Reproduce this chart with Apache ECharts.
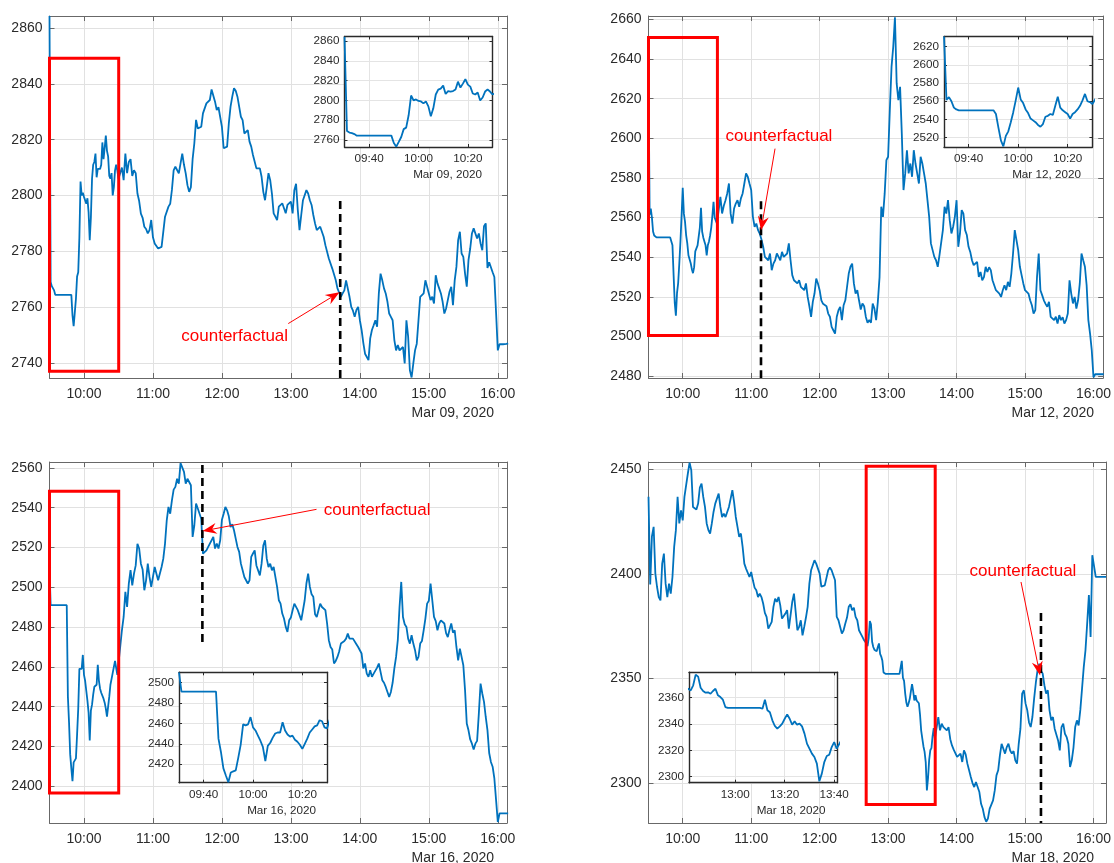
<!DOCTYPE html>
<html>
<head>
<meta charset="utf-8">
<title>Intraday index level, March 2020</title>
<script src="https://cdn.jsdelivr.net/npm/echarts@6/dist/echarts.min.js"></script>
<style>
  html, body { margin: 0; padding: 0; background: #ffffff; }
  #chart { width: 1114px; height: 863px; }
</style>
</head>
<body>
<div id="chart"></div>
<script>
// ---------------------------------------------------------------------------
// Price paths. Times are minutes after midnight. "Open"/"Window" arrays are
// one-minute readings; the coarser arrays hold a reading every 3 minutes and
// the matching "Mid" arrays hold the reading half-way between two of them.
// ---------------------------------------------------------------------------

// Mar 09, 2020 — 09:30 to 10:30, every minute
const mar09Open = [
  2864.3, 2769, 2767.5, 2767, 2766, 2764.4,
  2764.4, 2764.4, 2764.4, 2764.4, 2764.4, 2764.4, 2764.4, 2764.4, 2764.4, 2764.4, 2764.4, 2764.4, 2764.4, 2764.4,
  2757, 2753.2, 2758, 2763, 2771, 2772.5, 2785, 2805, 2800, 2801,
  2799.5, 2799, 2797, 2799, 2794, 2784, 2792, 2806, 2811, 2812,
  2815, 2806.5, 2809.5, 2809, 2809.5, 2811, 2819, 2813, 2817, 2821.5,
  2816, 2814, 2807, 2806, 2808, 2800, 2803, 2809, 2811, 2809, 2806
];
// Mar 09, 2020 — 10:33 to 16:09, every 3 minutes
const mar09Rest = [
  2810, 2815, 2812, 2807, 2808, 2798, 2792, 2788, 2787.6, 2785,
  2782.5, 2781, 2782, 2792.6, 2797, 2809, 2809.7, 2811.5, 2811, 2803.7,
  2803, 2818.7, 2824, 2824.6, 2830, 2833.6, 2838, 2833.6, 2831.6, 2824.6,
  2816.9, 2825.8, 2835.4, 2837.5, 2831.8, 2827, 2822.5, 2819.3, 2814.5, 2809.7,
  2809.7, 2801.3, 2803, 2805.5, 2793.6, 2791.2, 2796, 2795.4, 2796.6, 2797.8,
  2801.9, 2794.8, 2793, 2798.3, 2800.7, 2796.6, 2790, 2787.8, 2788.8, 2782.2,
  2777.4, 2773.8, 2769.7, 2766, 2764.9, 2769.6, 2763.7, 2758.7, 2759, 2755.3,
  2747.2, 2742.8, 2748.8, 2753.5, 2753, 2772, 2766.7, 2761.9, 2756.5, 2748.2,
  2746.4, 2745.2, 2739.8, 2749.4, 2734.8, 2744.5, 2755.3, 2764.3, 2769.6, 2764.9,
  2763.7, 2771.4, 2766.7, 2761.9, 2759.5, 2765.5, 2760.7, 2774.4, 2787, 2778,
  2767.3, 2781, 2788.2, 2784.6, 2782.8, 2789, 2774, 2776.2, 2770.8, 2744.5,
  2746.7, 2746.7, 2747
];
// Mar 09, 2020 — 10:34:30 to 16:07:30, every 3 minutes
const mar09RestMid = [
  2805.5, 2808, 2813, 2809, 2800.7, 2793.5, 2788.8, 2786.4, 2791.2, 2782.8,
  2781, 2781.6, 2792.4, 2796, 2802, 2810.3, 2807.9, 2815, 2807.9, 2801.3,
  2813, 2827.1, 2823.4, 2829.4, 2833, 2834.2, 2838.4, 2830.6, 2831.8, 2816.9,
  2817.5, 2831.8, 2838.4, 2835.4, 2828.2, 2822.2, 2823.4, 2817.5, 2813.9, 2810.3,
  2806.7, 2798.3, 2808, 2800.7, 2792.4, 2796, 2797.2, 2793.6, 2797.2, 2793.6,
  2804.2, 2787.6, 2798.3, 2801.9, 2798.3, 2793, 2787.6, 2788.8, 2785.2, 2781.6,
  2776.8, 2773.2, 2766.7, 2763.7, 2766, 2769.6, 2760.1, 2756.5, 2760.1, 2751.8,
  2743.3, 2741, 2751.8, 2755.3, 2764.9, 2769.6, 2764.9, 2757.7, 2755.3, 2744.5,
  2744.5, 2745.7, 2755.3, 2737.4, 2739.8, 2746.9, 2763.7, 2764.9, 2767.3, 2762.5,
  2761.3, 2768.5, 2764.9, 2757.7, 2762.5, 2767.3, 2769.6, 2784, 2779.2, 2772,
  2776.8, 2786.4, 2788.8, 2786.4, 2780.4, 2790, 2776.1, 2772.5, 2758, 2746.7,
  2746.7, 2746.8
];

// Mar 12, 2020 — 09:30 to 10:30, every minute
const mar12Open = [
  2631, 2561.5, 2564.5, 2560, 2553, 2551,
  2550, 2550, 2550, 2550, 2550, 2550, 2550, 2550, 2550, 2550, 2550, 2550, 2550, 2550, 2550,
  2546, 2531, 2517, 2510.5, 2522, 2527, 2537, 2548, 2561, 2575,
  2562, 2558, 2551, 2547, 2541, 2539, 2537, 2534, 2532, 2535,
  2543, 2544, 2546, 2545, 2555, 2565, 2553, 2550, 2548, 2546,
  2541, 2546, 2548, 2551, 2555, 2561, 2568, 2560, 2559, 2557
];
// Mar 12, 2020 — 10:33 to 16:09, every 3 minutes
const mar12Rest = [
  2570.5, 2566, 2572.2, 2562, 2564.6, 2568.8, 2569.7, 2577.2, 2580.6, 2573.9,
  2555.4, 2553.7, 2549, 2540.2, 2538.5, 2533.5, 2538.5, 2540.2, 2542.7, 2540.2,
  2547, 2531, 2529.3, 2528.4, 2525.9, 2526.8, 2515.3, 2517.5, 2529.3, 2523.4,
  2516.5, 2515.3, 2510, 2503.2, 2510, 2515, 2515.8, 2525, 2535.2, 2526.8,
  2523.4, 2513.6, 2515.3, 2507, 2507, 2514.1, 2517.5, 2565.5, 2572.2, 2590.7,
  2636, 2661, 2619.3, 2602.5, 2582.3, 2582.3, 2580.6, 2587.3, 2577.2, 2587.3,
  2577.2, 2560.4, 2543.6, 2538.5, 2541, 2553.7, 2562, 2558.7, 2555.4, 2568.8,
  2552, 2562, 2551.2, 2542.7, 2536, 2537.7, 2532.6, 2530, 2532.6, 2533.5,
  2525.9, 2524.2, 2520, 2525.9, 2527.6, 2531.8, 2553.7, 2543.6, 2531, 2523.4,
  2521.7, 2515.8, 2513.3, 2541.9, 2520.9, 2516.5, 2517.5, 2510.8, 2510, 2510.8,
  2509.7, 2508.3, 2528.4, 2516.7, 2514.1, 2526.8, 2538.5, 2525.9, 2501.5, 2479.5,
  2481, 2481, 2481
];
// Mar 12, 2020 — 10:34:30 to 16:07:30, every 3 minutes
const mar12RestMid = [
  2562.1, 2568.8, 2577.2, 2557, 2567.1, 2565.5, 2572.2, 2582.3, 2577.2, 2560.4,
  2557, 2552, 2545.3, 2540.2, 2541.9, 2536.8, 2541.9, 2538.5, 2540.2, 2541.9,
  2538.5, 2528.4, 2526.8, 2525.1, 2523.4, 2520, 2509.9, 2521.7, 2526.8, 2518.3,
  2516.7, 2511.6, 2504.9, 2501.5, 2513.3, 2508.3, 2518.3, 2531.8, 2536.8, 2521.7,
  2518.3, 2516.7, 2509.9, 2508.3, 2516.7, 2508.3, 2530, 2560.4, 2589, 2614.2,
  2646.2, 2627.7, 2626, 2573.9, 2594, 2587.3, 2594, 2582.3, 2590.7, 2582.3,
  2568.8, 2547, 2540.2, 2535.2, 2540.2, 2565.5, 2568.8, 2552, 2560.4, 2545.3,
  2563.8, 2553.7, 2545.3, 2538.5, 2536.8, 2530.1, 2528.4, 2535.2, 2535, 2528.4,
  2523.4, 2521.7, 2523.4, 2523.4, 2525.1, 2541.9, 2548.6, 2535.2, 2526.8, 2523.4,
  2518.3, 2511.6, 2530, 2523.4, 2518.3, 2515, 2509.9, 2508.3, 2506.6, 2508.3,
  2506.6, 2511.6, 2521.7, 2520, 2518.3, 2541.9, 2535.2, 2508.3, 2493, 2481,
  2481, 2481
];

// Mar 16, 2020 — 09:30 to 10:30, every minute
const mar16Open = [
  2509.6, 2491,
  2491, 2491, 2491, 2491, 2491, 2491, 2491, 2491, 2491, 2491, 2491, 2491, 2491, 2491,
  2445, 2432, 2416, 2409, 2402.5, 2412, 2413, 2414, 2426, 2439,
  2459, 2458, 2459, 2466, 2456, 2453, 2448, 2443, 2437, 2423,
  2438, 2441, 2446, 2450, 2451, 2451, 2461, 2453, 2449, 2447,
  2448, 2444, 2442, 2439, 2435, 2440, 2445, 2451, 2454, 2457,
  2458, 2463, 2462, 2456, 2455
];
// Mar 16, 2020 — 10:33 to 16:09, every 3 minutes
const mar16Rest = [
  2478.4, 2497.7, 2501.9, 2501, 2511, 2519.5, 2509, 2503.5, 2505.2, 2505.2,
  2509.4, 2504.4, 2514.4, 2533.7, 2537, 2549.1, 2554.6, 2562.5, 2558, 2554.6,
  2551.3, 2531.2, 2539.6, 2534.5, 2517.8, 2518.6, 2521.1, 2519.5, 2519.5, 2534,
  2540.4, 2535.7, 2531.7, 2524.5, 2517.8, 2508.6, 2504.4, 2503.5, 2517, 2511,
  2506, 2521, 2514.4, 2511.9, 2510.2, 2500.2, 2491.8, 2484.3, 2477.6, 2484.8,
  2491.8, 2488.5, 2483.4, 2493.5, 2506.9, 2496.5, 2486.5, 2488.5, 2490.1, 2488.5,
  2473.4, 2468.7, 2463, 2467.7, 2471, 2474.2, 2474.2, 2474.2, 2471.4, 2470.9,
  2459.2, 2456.6, 2458.3, 2456.6, 2459.6, 2457.5, 2452, 2447.4, 2447.4, 2459.2,
  2473.4, 2502.7, 2481.4, 2474.2, 2475.9, 2468.4, 2465, 2473, 2484.3, 2493.2,
  2502, 2483, 2481.8, 2483.4, 2477, 2478.7, 2477.2, 2470, 2469.2, 2460.8,
  2431.5, 2423.5, 2418.4, 2422.8, 2451.6, 2442.4, 2428.2, 2412.2, 2403.9, 2382,
  2386.3, 2386.3, 2386.3
];
// Mar 16, 2020 — 10:34:30 to 16:07:30, every 3 minutes
const mar16RestMid = [
  2485.1, 2490.1, 2508.6, 2506.9, 2521.9, 2511.9, 2498.5, 2511.9, 2500.2, 2510.2,
  2503.5, 2510.2, 2522, 2540.4, 2543.7, 2550.5, 2552.1, 2562.2, 2552.1, 2553.8,
  2525.3, 2542.1, 2540.4, 2516.9, 2518.6, 2522, 2525.3, 2522, 2523.6, 2537,
  2538.7, 2530.3, 2528.7, 2520.3, 2511.9, 2505.2, 2501.9, 2515.3, 2518.6, 2510.2,
  2511.9, 2523.6, 2510.2, 2508.6, 2505.2, 2493.5, 2486.8, 2480.1, 2483.4, 2488.5,
  2492, 2486, 2483.4, 2501.9, 2500.2, 2495.2, 2485.1, 2491.8, 2490.1, 2481.8,
  2470, 2461.7, 2465, 2471.7, 2473, 2476.7, 2473.4, 2473.4, 2470, 2466.7,
  2461.7, 2455, 2455, 2457.5, 2461.7, 2453.3, 2449.9, 2444.9, 2452, 2465,
  2490, 2485.1, 2480.1, 2471.7, 2471.7, 2463.3, 2471.7, 2478.4, 2491.8, 2501.9,
  2485.1, 2478.4, 2483.4, 2481.8, 2475, 2481.8, 2478.4, 2463.3, 2465, 2448.3,
  2428.1, 2421.4, 2421.4, 2436.5, 2446.6, 2434.8, 2416.7, 2409.8, 2393, 2386.3,
  2386.3, 2386.3
];

// Mar 18, 2020 — 09:30 to 12:39, every 3 minutes
const mar18Morning = [
  2437, 2418, 2400.2, 2389, 2405, 2395.4, 2395.4, 2398.6, 2421, 2424.2,
  2425.7, 2442.5, 2453.3, 2432.1, 2430.9, 2441.4, 2436.9, 2424.2, 2419.4, 2429.7,
  2434.5, 2432.1, 2428.9, 2429.7, 2436.1, 2434.5, 2422.6, 2419.4, 2405, 2401.8,
  2401, 2393.5, 2389, 2389, 2381.4, 2373.9, 2377.1, 2388.2, 2389, 2378.7,
  2381.1, 2373.9, 2386.7, 2381.9, 2374.7, 2370.7, 2379.2, 2395.4, 2404.2, 2405,
  2400.2, 2393.8, 2395.4, 2403.1, 2402.6, 2379.5, 2374.7, 2373.1, 2379.2, 2385.5,
  2383.9, 2377.9, 2371.5, 2368.3
];
// Mar 18, 2020 — 09:31:30 to 12:37:30, every 3 minutes
const mar18MorningMid = [
  2395, 2422.6, 2393.8, 2387.4, 2409.8, 2389, 2390.6, 2413, 2436.9, 2430.5,
  2436.9, 2448.1, 2449.7, 2432.1, 2433.7, 2443.3, 2432.1, 2421, 2424.2, 2433.7,
  2438.5, 2427.3, 2427.3, 2432.1, 2440.1, 2427.3, 2417.8, 2413, 2402.6, 2398.6,
  2397, 2392.2, 2390.6, 2385.9, 2379.5, 2374.7, 2384.3, 2386.7, 2385, 2378.7,
  2382.7, 2373.1, 2390.6, 2373.1, 2377.9, 2374.7, 2384.3, 2401.8, 2406.6, 2405,
  2394, 2394.6, 2401.8, 2401.8, 2397, 2377.9, 2371.5, 2376.3, 2384.3, 2382.7,
  2379.5, 2373.1, 2369.9
];
// Mar 18, 2020 — 12:41 to 13:41, every minute
const mar18Window = [
  2366.8, 2365.5, 2369.4, 2377.5, 2376, 2367.6, 2365.1, 2363.8, 2364.1, 2363,
  2365.1, 2366.8, 2361.8, 2360.5, 2358.5, 2352.9,
  2352.2, 2352.2, 2352.2, 2352.2, 2352.2, 2352.2, 2352.2, 2352.2, 2352.2, 2352.2, 2352.2, 2352.2, 2352.2, 2352.2,
  2351.6, 2358.5, 2350.4, 2348.9, 2342.8, 2338.5, 2336.5, 2338.2, 2340.3, 2344,
  2347.3, 2344, 2339.5, 2342, 2339.5, 2340.3, 2338.2, 2332.7, 2325.1, 2321.3,
  2317.5, 2314.9, 2309.9, 2296.5, 2302.3, 2311.1, 2315.7, 2316.7, 2322.5, 2326.3,
  2321.3
];
// Mar 18, 2020 — 13:44 to 16:11, every 3 minutes
const mar18Late = [
  2331.6, 2328.4, 2327.6, 2326.8, 2318, 2316.4, 2311.7, 2310.1, 2313.7, 2306.1,
  2300, 2300.5, 2295.7, 2287.7, 2281.5, 2287.7, 2291.7, 2303.7, 2313.3, 2319.6,
  2317.2, 2315.6, 2315.3, 2309.3, 2326, 2344.4, 2334.8, 2326.8, 2340.4, 2354,
  2353.6, 2346.8, 2344.4, 2330, 2326, 2320.4, 2326.8, 2323.6, 2318.8, 2310.9,
  2326.8, 2327.6, 2345.2, 2363.5, 2390, 2409, 2398.6, 2398.6, 2398.6, 2398.6
];
// Mar 18, 2020 — 13:45:30 to 16:09:30, every 3 minutes
const mar18LateMid = [
  2325.2, 2326.8, 2325.2, 2321, 2316, 2312.5, 2314.1, 2315.6, 2309.3, 2302.9,
  2298.1, 2299.7, 2290.1, 2283.7, 2283, 2288.5, 2296.5, 2306.1, 2318.8, 2314.1,
  2318.8, 2314.1, 2310.9, 2318.8, 2342.8, 2338, 2329, 2331.6, 2348, 2357.1,
  2352.4, 2342.8, 2334.8, 2331.6, 2326.8, 2315.6, 2328.4, 2322, 2307.7, 2317,
  2330, 2335, 2355.5, 2376.3, 2369.9, 2409.8, 2398.6, 2398.6, 2398.6
];

// Tick values
const hourTicks = [600, 660, 720, 780, 840, 900, 960];
const mar09YTicks = [2740, 2760, 2780, 2800, 2820, 2840, 2860];
const mar12YTicks = [2480, 2500, 2520, 2540, 2560, 2580, 2600, 2620, 2640, 2660];
const mar16YTicks = [2400, 2420, 2440, 2460, 2480, 2500, 2520, 2540, 2560];
const mar18YTicks = [2300, 2350, 2400, 2450];
const openInsetXTicks = [580, 600, 620];
const mar18InsetXTicks = [780, 800, 820];
const mar09InsetYTicks = [2760, 2780, 2800, 2820, 2840, 2860];
const mar12InsetYTicks = [2520, 2540, 2560, 2580, 2600, 2620];
const mar16InsetYTicks = [2420, 2440, 2460, 2480, 2500];
const mar18InsetYTicks = [2300, 2320, 2340, 2360];

// Highlighted window [t0, v0, t1, v1], cut-off line [t, vFrom, vTo],
// annotation arrow [tTail, vTail, tHead, vHead]
const mar09Box = [570, 2737, 630.2, 2849.2];
const mar09Cut = [822.9, 2798, 2734.6];
const mar09Arrow = [777.7, 2754.1, 822.3, 2765.3];
const mar12Box = [570, 2500.6, 630.4, 2650.9];
const mar12Cut = [668.6, 2568.2, 2479.1];
const mar12Arrow = [680.9, 2594.8, 668.6, 2553.6];
const mar16Box = [570, 2396.6, 630.2, 2548.3];
const mar16Cut = [703, 2472.5, 2563];
const mar16Arrow = [802.3, 2539.2, 703.3, 2528.3];
const mar18Box = [760.8, 2289.8, 821.3, 2451.6];
const mar18Cut = [914, 2381.4, 2280.9];
const mar18Arrow = [896.5, 2396.2, 913.2, 2351.5];

// ---------------------------------------------------------------------------
function seg(start, step, vals) {
  return vals.map((v, i) => [start + i * step, v]);
}
// readings on a regular step plus the readings taken half-way between them
function weave(start, step, vals, mids) {
  const out = [];
  vals.forEach((v, i) => {
    out.push([start + i * step, v]);
    if (i < mids.length) out.push([start + (i + 0.5) * step, mids[i]]);
  });
  return out;
}
function hhmm(v) {
  const h = Math.floor(v / 60);
  const m = Math.round(v - h * 60);
  return String(h).padStart(2, '0') + ':' + String(m).padStart(2, '0');
}

const FONT = '"Liberation Sans", Arial, Helvetica, sans-serif';
const LABEL = '#2b2b2b';
const BLUE = '#0072BD';
const RED = '#ff0000';
const MAIN_STYLE = { axis: '#686868', axisWidth: 1, grid: '#e1e1e1', tick: 5, font: 14, xMargin: 9, yMargin: 7, z: 1 };
const INSET_STYLE = { axis: '#2a2a2a', axisWidth: 1.4, grid: '#e4e4e4', tick: 3, font: 11.7, xMargin: 6, yMargin: 5, z: 6 };

const panels = [
  {
    date: 'Mar 09, 2020',
    data: seg(570, 1, mar09Open).concat(weave(633, 3, mar09Rest, mar09RestMid)),
    grid: { left: 49.5, top: 16, width: 457.5, height: 362 },
    x: [570, 968], y: [2734.6, 2864.3], yTicks: mar09YTicks,
    box: mar09Box, cut: mar09Cut, arrow: mar09Arrow,
    dateAt: [494, 413],
    note: { x: 234.7, y: 336.7, align: 'center' },
    inset: { grid: { left: 344.5, top: 36.5, width: 148, height: 110.5 },
             x: [570, 630], y: [2752.9, 2864.7], xTicks: openInsetXTicks, yTicks: mar09InsetYTicks,
             dateAt: [482, 175] }
  },
  {
    date: 'Mar 12, 2020',
    data: seg(570, 1, mar12Open).concat(weave(633, 3, mar12Rest, mar12RestMid)),
    grid: { left: 648.5, top: 16, width: 458.5, height: 362 },
    x: [570, 968.5], y: [2479.1, 2661.7], yTicks: mar12YTicks,
    box: mar12Box, cut: mar12Cut, arrow: mar12Arrow,
    dateAt: [1094, 413],
    note: { x: 779, y: 136.7, align: 'center' },
    inset: { grid: { left: 944, top: 36.5, width: 148.4, height: 110.5 },
             x: [570, 630], y: [2509.8, 2631], xTicks: openInsetXTicks, yTicks: mar12InsetYTicks,
             dateAt: [1081, 175] }
  },
  {
    date: 'Mar 16, 2020',
    data: seg(570, 1, mar16Open).concat(weave(633, 3, mar16Rest, mar16RestMid)),
    grid: { left: 49.5, top: 462, width: 457.5, height: 361 },
    x: [570, 968], y: [2381.5, 2563], yTicks: mar16YTicks,
    box: mar16Box, cut: mar16Cut, arrow: mar16Arrow,
    dateAt: [494, 858],
    note: { x: 323.7, y: 510.7, align: 'left' },
    inset: { grid: { left: 179, top: 672.3, width: 148, height: 110.4 },
             x: [570, 630], y: [2402, 2509.8], xTicks: openInsetXTicks, yTicks: mar16InsetYTicks,
             dateAt: [316, 810.3] }
  },
  {
    date: 'Mar 18, 2020',
    data: weave(570, 3, mar18Morning, mar18MorningMid)
            .concat(seg(761, 1, mar18Window), weave(824, 3, mar18Late, mar18LateMid)),
    grid: { left: 648.5, top: 462, width: 457.5, height: 361 },
    x: [570, 971], y: [2280.9, 2453.6], yTicks: mar18YTicks,
    box: mar18Box, cut: mar18Cut, arrow: mar18Arrow,
    dateAt: [1094, 858],
    note: { x: 1023, y: 571.7, align: 'center' },
    inset: { grid: { left: 689, top: 672.3, width: 148.4, height: 110.4 },
             x: [761.3, 821.3], y: [2295.4, 2379.3], xTicks: mar18InsetXTicks, yTicks: mar18InsetYTicks,
             dateAt: [825.5, 810.3] }
  }
];

const grids = [], xAxes = [], yAxes = [], series = [], graphics = [];

function addAxes(gi, xr, yr, xt, yt, o) {
  const line = { show: true, onZero: false, lineStyle: { color: o.axis, width: o.axisWidth } };
  const tick = vals => ({ show: true, inside: true, length: o.tick, customValues: vals,
                          lineStyle: { color: o.axis, width: 1 } });
  const label = (vals, fmt, margin) => ({ show: true, customValues: vals, formatter: fmt,
                          color: LABEL, fontSize: o.font, fontFamily: FONT, margin: margin });
  const split = { show: true, lineStyle: { color: o.grid, width: 1 } };
  xAxes.push(
    { type: 'value', gridIndex: gi, position: 'bottom', min: xr[0], max: xr[1], z: o.z,
      axisLine: line, axisTick: tick(xt), axisLabel: label(xt, hhmm, o.xMargin), splitLine: split },
    { type: 'value', gridIndex: gi, position: 'top', min: xr[0], max: xr[1], z: o.z,
      axisLine: line, axisTick: tick(xt), axisLabel: { show: false }, splitLine: { show: false } }
  );
  yAxes.push(
    { type: 'value', gridIndex: gi, position: 'left', min: yr[0], max: yr[1], z: o.z,
      axisLine: line, axisTick: tick(yt), axisLabel: label(yt, v => String(v), o.yMargin), splitLine: split },
    { type: 'value', gridIndex: gi, position: 'right', min: yr[0], max: yr[1], z: o.z,
      axisLine: line, axisTick: tick(yt), axisLabel: { show: false }, splitLine: { show: false } }
  );
  return 2 * gi;
}

function boxItem(params, api) {
  const a = api.coord([api.value(0), api.value(1)]);
  const b = api.coord([api.value(2), api.value(3)]);
  return { type: 'rect',
           shape: { x: Math.min(a[0], b[0]), y: Math.min(a[1], b[1]),
                    width: Math.abs(b[0] - a[0]), height: Math.abs(b[1] - a[1]) },
           style: { fill: 'none', stroke: RED, lineWidth: 3 } };
}
function cutItem(params, api) {
  const a = api.coord([api.value(0), api.value(1)]);
  const b = api.coord([api.value(0), api.value(2)]);
  return { type: 'line', shape: { x1: a[0], y1: a[1], x2: b[0], y2: b[1] },
           style: { stroke: '#000000', lineWidth: 2.6, lineDash: [8, 5] } };
}
function arrowItem(params, api) {
  const p1 = api.coord([api.value(0), api.value(1)]);
  const p2 = api.coord([api.value(2), api.value(3)]);
  const dx = p2[0] - p1[0], dy = p2[1] - p1[1];
  const len = Math.hypot(dx, dy);
  const ux = dx / len, uy = dy / len;
  const headLen = 14, halfW = 5.5, notchLen = 9.5;
  const base = [p2[0] - ux * headLen, p2[1] - uy * headLen];
  const notch = [p2[0] - ux * notchLen, p2[1] - uy * notchLen];
  const l = [base[0] - uy * halfW, base[1] + ux * halfW];
  const r = [base[0] + uy * halfW, base[1] - ux * halfW];
  return { type: 'group', children: [
    { type: 'line', shape: { x1: p1[0], y1: p1[1], x2: notch[0], y2: notch[1] },
      style: { stroke: RED, lineWidth: 1 } },
    { type: 'polygon', shape: { points: [p2, l, notch, r] }, style: { fill: RED } }
  ] };
}

panels.forEach((p, i) => {
  // main panel
  grids.push(Object.assign({ show: true, backgroundColor: '#ffffff', borderWidth: 0, z: 0 }, p.grid));
  const ax = addAxes(i, p.x, p.y, hourTicks, p.yTicks, MAIN_STYLE);
  series.push({
    type: 'line', name: p.date, xAxisIndex: ax, yAxisIndex: ax, data: p.data,
    showSymbol: false, symbol: 'none', clip: true, z: 2,
    lineStyle: { color: BLUE, width: 1.8 }, emphasis: { disabled: true }
  });
  series.push({ type: 'custom', xAxisIndex: ax, yAxisIndex: ax, z: 3, silent: true,
                data: [p.box], renderItem: boxItem });
  series.push({ type: 'custom', xAxisIndex: ax, yAxisIndex: ax, z: 3, silent: true,
                data: [p.cut], renderItem: cutItem });
  series.push({ type: 'custom', xAxisIndex: ax, yAxisIndex: ax, z: 4, silent: true,
                data: [p.arrow], renderItem: arrowItem });
  graphics.push({ type: 'text', x: p.dateAt[0], y: p.dateAt[1], z: 10,
    style: { text: p.date, fill: LABEL, font: '14px ' + FONT, align: 'right', textAlign: 'right',
             verticalAlign: 'middle', textVerticalAlign: 'middle' } });
  graphics.push({ type: 'text', x: p.note.x, y: p.note.y, z: 10,
    style: { text: 'counterfactual', fill: RED, font: '17px ' + FONT, align: p.note.align,
             textAlign: p.note.align, verticalAlign: 'middle', textVerticalAlign: 'middle' } });
});

panels.forEach((p, i) => {
  // zoomed inset over the highlighted hour
  const gi = 4 + i;
  const s = p.inset;
  grids.push(Object.assign({ show: true, backgroundColor: '#ffffff', borderWidth: 0, z: 5 }, s.grid));
  const ax = addAxes(gi, s.x, s.y, s.xTicks, s.yTicks, INSET_STYLE);
  series.push({
    type: 'line', name: p.date + ' inset', xAxisIndex: ax, yAxisIndex: ax, data: p.data,
    showSymbol: false, symbol: 'none', clip: true, z: 7,
    lineStyle: { color: BLUE, width: 1.8 }, emphasis: { disabled: true }
  });
  graphics.push({ type: 'text', x: s.dateAt[0], y: s.dateAt[1], z: 10,
    style: { text: p.date, fill: LABEL, font: '11.7px ' + FONT, align: 'right', textAlign: 'right',
             verticalAlign: 'middle', textVerticalAlign: 'middle' } });
});

const chart = echarts.init(document.getElementById('chart'), null, { renderer: 'canvas' });
chart.setOption({
  animation: false,
  backgroundColor: '#ffffff',
  grid: grids,
  xAxis: xAxes,
  yAxis: yAxes,
  series: series,
  graphic: graphics
});
</script>
</body>
</html>
